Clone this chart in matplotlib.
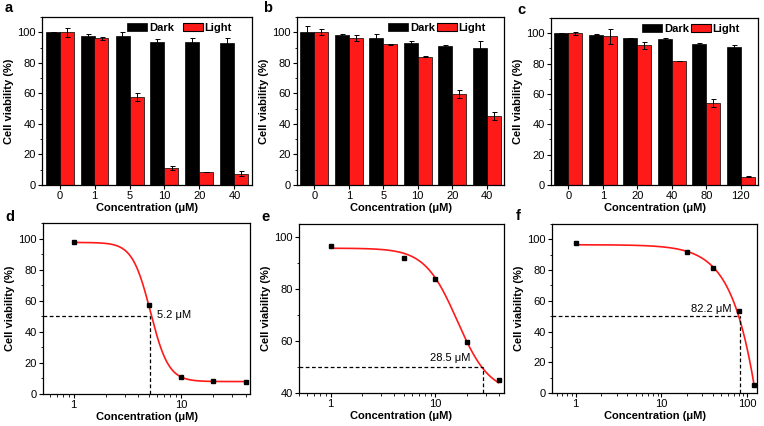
import numpy as np
import matplotlib
matplotlib.use("Agg")
import matplotlib.pyplot as plt
from matplotlib.patches import Patch
from matplotlib.ticker import MultipleLocator, NullFormatter

plt.rcParams['font.family'] = ['Liberation Sans', 'DejaVu Sans']

# ---------------- data ----------------
conc_a = ["0", "1", "5", "10", "20", "40"]
dark_a = [100, 97.5, 97.5, 93.5, 93.5, 93]
dark_a_err = [0, 1.5, 2.5, 2, 3, 3]
light_a = [100, 96, 57.5, 11, 8.5, 7.5]
light_a_err = [3, 1, 2.5, 1.5, 0, 1.5]

conc_b = ["0", "1", "5", "10", "20", "40"]
dark_b = [100, 98, 96, 93, 91, 90]
dark_b_err = [4, 1, 3, 1, 0.5, 4.5]
light_b = [100, 96, 92, 84, 59.5, 45]
light_b_err = [2, 2, 0.5, 0.5, 2.5, 2.5]

conc_c = ["0", "1", "20", "40", "80", "120"]
dark_c = [100, 99, 97, 96, 93, 91]
dark_c_err = [0, 0.5, 0, 1, 0.5, 1.5]
light_c = [100, 98, 92, 81.5, 54, 5.5]
light_c_err = [1, 5, 2.5, 0, 2.5, 0.5]

x_d = [1, 5, 10, 20, 40]
y_d = [97.5, 57.5, 11, 8.5, 7.5]
fit_d = dict(top=97.5, bottom=8, x0=5.21, p=5.15)
ic50_d = 5.2

x_e = [1, 5, 10, 20, 40]
y_e = [96.5, 92, 84, 59.5, 45]
fit_e = dict(top=95.7, bottom=40, x0=16.1, p=2.82)
ic50_e = 28.5

x_f = [1, 20, 40, 80, 120]
y_f = [97.5, 91.5, 81.5, 53.5, 5.5]
fit_f = dict(top=96.5, bottom=-1000, x0=478, p=1.738)
ic50_f = 82.2

DARK = "#000000"
RED = "#ff1a1a"
W, H = 764, 426
FS = 8

fig = plt.figure(figsize=(W / 100, H / 100), dpi=100)


def add_ax(l, r, t, b):
    return fig.add_axes([l / W, 1 - b / H, (r - l) / W, (b - t) / H])


def style(ax):
    ax.tick_params(direction='out', length=3, width=0.8, labelsize=FS, pad=1.5)
    ax.tick_params(which='minor', direction='out', length=1.8, width=0.6)
    for s in ax.spines.values():
        s.set_linewidth(0.9)


def bar_panel(ax, labels, dark, dark_err, light, light_err, colsp, anchor):
    x = np.arange(len(labels))
    ek = dict(ecolor='black', elinewidth=0.7, capsize=1.8, capthick=0.7)
    ax.bar(x - 0.2, dark, 0.4, yerr=dark_err, color=DARK, edgecolor='black',
           linewidth=0.5, error_kw=ek)
    ax.bar(x + 0.2, light, 0.4, yerr=light_err, color=RED, edgecolor='black',
           linewidth=0.5, error_kw=ek)
    ax.set_xlim(-0.5, len(labels) - 0.5)
    ax.set_ylim(0, 110)
    ax.set_xticks(x)
    ax.set_xticklabels(labels)
    ax.yaxis.set_major_locator(MultipleLocator(20))
    ax.yaxis.set_minor_locator(MultipleLocator(10))
    ax.set_xlabel("Concentration (μM)", fontsize=FS, fontweight='bold', labelpad=1)
    ax.set_ylabel("Cell viability (%)", fontsize=FS, fontweight='bold', labelpad=2)
    style(ax)
    handles = [Patch(facecolor=DARK, edgecolor='black', linewidth=0.5, label='Dark'),
               Patch(facecolor=RED, edgecolor='black', linewidth=0.8, label='Light')]
    ax.legend(handles=handles, ncol=2, frameon=False, loc='upper right',
              bbox_to_anchor=anchor, handlelength=1.8, handleheight=0.75,
              handletextpad=0.15, columnspacing=colsp, borderaxespad=0.1,
              prop={'size': FS, 'weight': 'bold'})


def hill(x, top, bottom, x0, p):
    x = np.asarray(x, float)
    return bottom + (top - bottom) / (1 + (x / x0) ** p)


def curve_panel(ax, xs, ys, fit, ic50, xlim, ylim, ymaj, label_xy, ha):
    xx = np.logspace(np.log10(xs[0]), np.log10(xs[-1]), 400)
    ax.plot(xx, hill(xx, **fit), color=RED, lw=1.2, zorder=2)
    ax.plot(xs, ys, 's', color='black', ms=3.2, zorder=3)
    ax.set_xscale('log')
    ax.set_xlim(*xlim)
    ax.set_ylim(*ylim)
    ax.plot([xlim[0], ic50], [50, 50], '--', color='black', lw=0.9, dashes=(3, 2))
    ax.plot([ic50, ic50], [ylim[0], 50], '--', color='black', lw=0.9, dashes=(3, 2))
    ax.text(label_xy[0], label_xy[1], f"{ic50} μM", fontsize=FS, ha=ha, va='center')
    ax.yaxis.set_major_locator(MultipleLocator(ymaj))
    ax.yaxis.set_minor_locator(MultipleLocator(ymaj / 2))
    ax.xaxis.set_minor_formatter(NullFormatter())
    ax.set_xlabel("Concentration (μM)", fontsize=FS, fontweight='bold', labelpad=1)
    ax.set_ylabel("Cell viability (%)", fontsize=FS, fontweight='bold', labelpad=2)
    style(ax)


ax_a = add_ax(42, 252, 17, 185)
bar_panel(ax_a, conc_a, dark_a, dark_a_err, light_a, light_a_err, 0.8, (0.93, 1.0))
ax_b = add_ax(297, 504, 17, 185)
bar_panel(ax_b, conc_b, dark_b, dark_b_err, light_b, light_b_err, 0.2, (0.94, 1.0))
ax_c = add_ax(551, 758, 18, 185)
bar_panel(ax_c, conc_c, dark_c, dark_c_err, light_c, light_c_err, 0.2, (0.94, 1.0))

ax_d = add_ax(43, 250, 223, 394)
curve_panel(ax_d, x_d, y_d, fit_d, ic50_d, (0.52, 44), (0, 110), 20, (6.0, 51), 'left')
ax_d.set_xticks([1, 10])
ax_d.set_xticklabels(["1", "10"])
ax_e = add_ax(299, 504, 224, 393)
curve_panel(ax_e, x_e, y_e, fit_e, ic50_e, (0.5, 45), (40, 105), 20, (21.6, 53.5), 'right')
ax_e.set_xticks([1, 10])
ax_e.set_xticklabels(["1", "10"])
ax_f = add_ax(552, 757, 224, 393)
curve_panel(ax_f, x_f, y_f, fit_f, ic50_f, (0.53, 130), (0, 110), 20, (65, 55), 'right')
ax_f.set_xticks([1, 10, 100])
ax_f.set_xticklabels(["1", "10", "100"])

for lab, (px, py) in zip("abcdef", [(5, 8), (263, 8), (517, 10), (5, 217), (261, 217), (516, 216)]):
    fig.text(px / W, 1 - py / H, lab, fontsize=10.5, fontweight='bold', va='center', ha='left')

fig.savefig("out.png", dpi=100)
